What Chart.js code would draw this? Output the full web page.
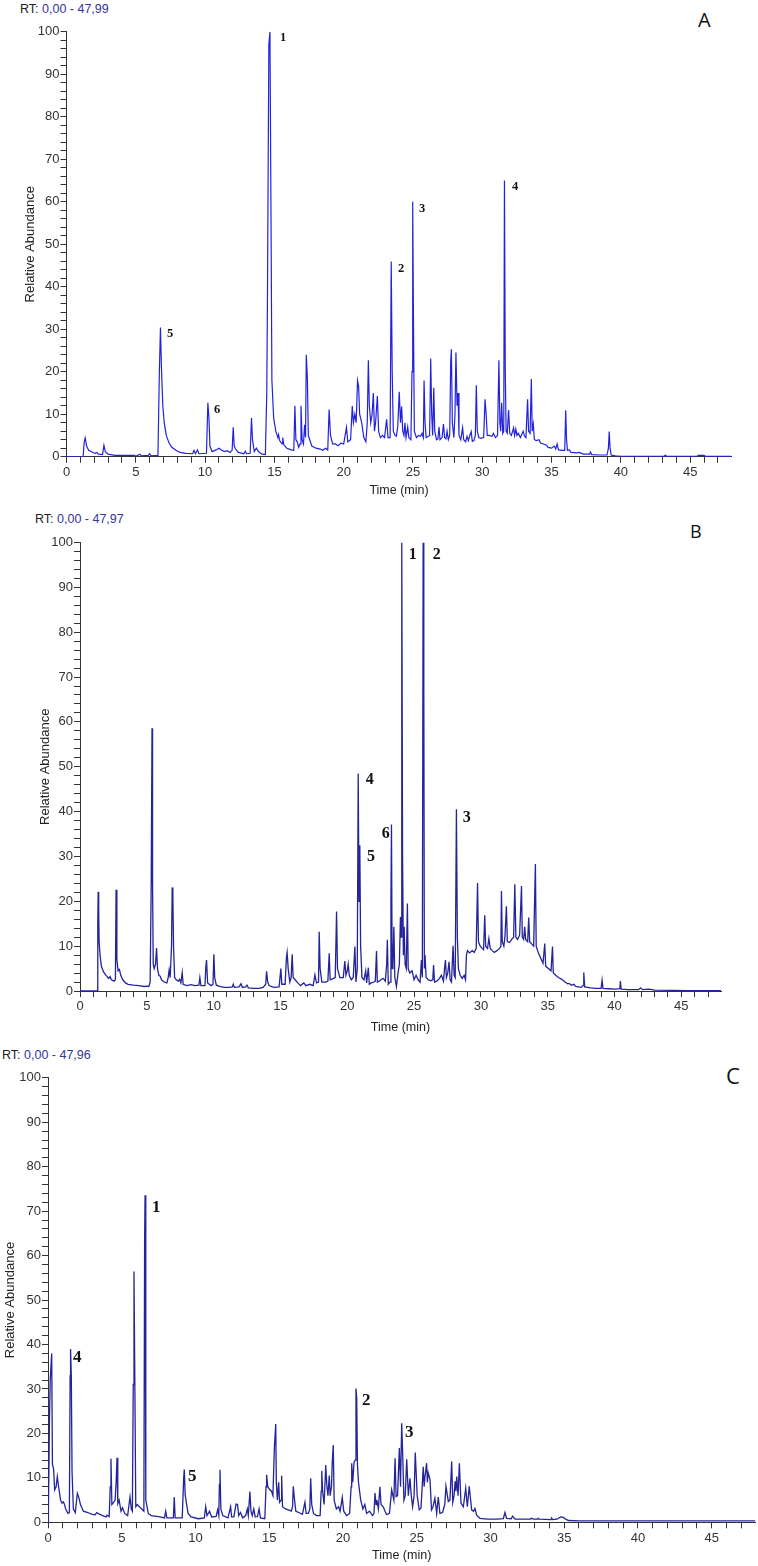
<!DOCTYPE html>
<html>
<head>
<meta charset="utf-8">
<script src="https://cdn.jsdelivr.net/npm/chart.js@4.4.1/dist/chart.umd.min.js"></script>
<style>
  body { margin: 0; background: #fff; }
  #page { position: relative; width: 758px; height: 1566px; overflow: hidden; background: #fff; }
  canvas { position: absolute; left: 0; }
  .rt { position: absolute; font: 12.5px "Liberation Sans", Arial, sans-serif; line-height: 14px; color: #222; white-space: nowrap; }
  .rt span { color: #34349a; }
  .tag { position: absolute; font-family: "Open Sans", sans-serif; line-height: 1; color: #111; }
</style>
</head>
<body>
<div id="page">
  <div class="rt" style="left:20px; top:1.5px">RT: <span>0,00 - 47,99</span></div>
  <div class="tag" style="left:698px; top:10px; font-size:20px">A</div>
  <canvas id="chartA" width="758" height="505" style="top:0px"></canvas>

  <div class="rt" style="left:35px; top:512px">RT: <span>0,00 - 47,97</span></div>
  <div class="tag" style="left:690px; top:522px; font-size:18px">B</div>
  <canvas id="chartB" width="758" height="535" style="top:505px"></canvas>

  <div class="rt" style="left:2px; top:1048px">RT: <span>0,00 - 47,96</span></div>
  <div class="tag" style="left:726px; top:1064px; font-size:22px">C</div>
  <canvas id="chartC" width="758" height="526" style="top:1040px"></canvas>
</div>
<script>
// retention time range of each run (min)
const rtMaxA = 47.99;
const rtMaxB = 47.97;
const rtMaxC = 47.96;

// [time (min), relative abundance (%)]
const traceA = [
  [0,0],[1.2,0],[1.28,3.5],[1.35,4.4],[1.45,2.5],[1.6,1.5],[1.9,1.0],[2.1,0.8],[2.2,1.0],[2.3,0.6],[2.6,0.5],[2.7,2.7],[2.8,1.2],[3.0,0.6],[3.5,0.3],[4.0,0.3],[4.9,0.3],[5.0,0.1],[5.3,0.6],[5.4,0.2],[5.9,0.3],[6.0,0.7],[6.1,0.2],[6.6,0.3],
  [6.7,20],[6.78,30.4],[6.85,21],[6.95,12],[7.05,8],[7.2,5],[7.4,3.2],[7.6,2.2],[7.9,1.5],[8.2,1.0],[8.6,0.8],[9.1,0.7],[9.2,1.5],[9.3,0.7],[9.45,1.6],[9.55,0.7],[10.1,0.8],
  [10.2,12.7],[10.28,9],[10.35,2.5],[10.5,1.2],[10.8,1.6],[11.0,2.0],[11.2,1.5],[11.4,1.2],[11.6,1.4],[11.8,1.0],[11.95,1.5],[12.03,6.9],[12.1,2.5],[12.2,1.8],[12.4,1.0],[12.8,0.7],[12.9,1.3],[13.0,0.7],[13.25,0.8],
  [13.35,9.1],[13.42,4],[13.55,1.2],[13.7,2.0],[13.85,1.2],[14.1,0.6],[14.35,0.5],[14.45,15],[14.5,37],[14.6,97],[14.68,100],[14.75,60],[14.82,18],[14.95,9],[15.1,6],[15.25,4.5],[15.3,5.2],[15.38,3.8],[15.55,3],[15.6,4.5],[15.68,2.8],[15.9,2],[16.2,1.6],[16.4,1.5],
  [16.48,12],[16.55,4],[16.65,3.5],[16.75,2.2],[16.85,3],[16.92,12],[17.0,4],[17.1,3],[17.18,7.5],[17.25,4.5],[17.3,24],[17.38,18.5],[17.45,5],[17.55,4],[17.7,2.5],[18.0,2],[18.3,1.8],[18.5,1.5],[18.7,2],[18.85,1.6],
  [18.95,11.1],[19.05,5],[19.2,3],[19.4,3],[19.6,2.6],[19.8,3.2],[20.0,3],[20.2,6.9],[20.3,3.5],[20.5,4],[20.62,11.9],[20.7,8],[20.8,10],[20.9,8],[21.0,17.9],[21.08,16.5],[21.15,10],[21.3,8],[21.45,4.5],[21.6,3.5],[21.7,8],[21.78,22.7],[21.85,12],[21.95,8],
  [22.05,10],[22.14,15],[22.22,6],[22.3,8],[22.43,14.3],[22.52,6],[22.65,4.5],[22.8,5],[22.95,4.5],[23.1,8.8],[23.2,4.5],[23.35,4.5],[23.43,45.9],[23.5,20],[23.58,6],[23.7,5],[23.8,4.8],[23.9,7],[24.01,15.3],[24.1,8],[24.18,11.8],[24.26,6],[24.35,5],[24.42,8],[24.5,4.5],[24.62,7],[24.7,4.5],[24.85,4],
  [24.93,20],[24.98,60],[25.04,30],[25.1,6],[25.25,4.5],[25.4,5],[25.55,4.8],[25.65,5.5],[25.75,4.5],[25.8,17.9],[25.87,8],[25.95,4.5],[26.1,4.8],[26.2,5],[26.28,23.1],[26.35,10],[26.42,5],[26.5,16.2],[26.57,6],[26.7,4],[26.8,4.2],[26.88,7],[26.95,4],
  [27.1,4.5],[27.2,7.7],[27.28,4.5],[27.38,4.2],[27.46,6],[27.55,4],[27.65,5],[27.72,22],[27.77,25.3],[27.84,8],[27.95,4.5],[28.03,10],[28.1,24.5],[28.18,12],[28.25,15],[28.32,5],[28.45,4],[28.58,6.8],[28.66,4],[28.8,3.5],[28.9,4.8],[29.0,3.8],[29.1,5],[29.2,5.9],[29.28,3.6],[29.4,3.8],[29.5,5],
  [29.57,16.8],[29.64,6],[29.75,4.5],[29.9,4.3],[30.1,4.5],[30.2,13.5],[30.28,10],[30.36,5],[30.5,5],[30.7,4.8],[30.8,5.5],[30.95,4.5],[31.1,5],[31.2,22.7],[31.27,8],[31.33,6],[31.4,12.7],[31.48,5.5],[31.55,6],[31.6,65],[31.66,20],[31.72,6],[31.8,5.5],[31.9,11],[31.98,5.5],
  [32.1,5],[32.26,6.8],[32.33,5],[32.42,6.5],[32.5,5],[32.6,5.5],[32.75,4.5],[32.95,6],[33.05,4.8],[33.15,4.5],[33.27,13.5],[33.34,6],[33.45,5.5],[33.54,18.3],[33.6,6],[33.68,7.7],[33.76,4],[33.9,3.8],[34.1,4],[34.2,3.2],[34.4,3],[34.64,2.7],[34.75,2.2],[35.0,2],[35.2,2.5],[35.3,1.8],[35.4,3],[35.5,1.6],[35.8,1.5],[35.95,1.5],
  [36.02,10.9],[36.08,4],[36.15,1.5],[36.3,1.6],[36.4,1],[36.8,0.9],[37.0,1],[37.3,0.6],[37.75,0.6],[37.8,1.1],[37.9,0.5],[38.5,0.4],[39.0,0.4],[39.1,2],[39.16,5.9],[39.22,2],[39.3,0.4],[39.6,0.2],[40,0.1],[43.1,0.1],[43.2,0.35],[43.3,0.1],[45.5,0.1],[45.6,0.3],[46.0,0.3],[46.1,0.1],[47.99,0.1]
];

const traceB = [
  [0,0],[1.3,0],[1.33,15],[1.36,22.1],[1.4,18],[1.43,11],[1.5,8],[1.6,5.5],[1.75,4.3],[1.95,3.5],[2.15,2.8],[2.25,3.2],[2.35,2.5],[2.55,2.2],[2.65,2.5],[2.7,22.6],[2.76,7],[2.85,4.5],[2.95,4.8],[3.05,3.5],[3.2,2.5],[3.4,1.8],[3.6,1.5],[4.0,1.3],[4.4,1.2],[4.8,1.0],[5.0,1.1],[5.15,1.0],
  [5.25,2],[5.33,24],[5.39,58.6],[5.43,24],[5.48,6],[5.55,5],[5.65,6],[5.73,9.6],[5.8,5],[5.9,3.5],[6.0,3.3],[6.1,2.5],[6.3,2],[6.5,1.8],[6.6,3],[6.67,4.7],[6.75,3],[6.85,10],[6.9,23.1],[6.95,21],[7.0,10],[7.08,3],[7.2,2.5],[7.35,2.2],[7.45,2.6],[7.55,1.8],[7.65,4.1],[7.72,1.5],
  [8.0,1.2],[8.3,1.4],[8.6,1.2],[8.9,1.3],[8.97,3.0],[9.05,1.2],[9.35,1.2],[9.42,5.5],[9.47,6.9],[9.55,1.8],[9.8,1.2],[9.95,1.5],[10.02,8.2],[10.08,3],[10.2,1.3],[10.5,1],[10.8,0.8],[11.2,0.8],[11.4,0.9],[11.47,1.5],[11.55,0.8],[11.9,0.9],[12.05,1.6],[12.15,0.8],[12.4,0.9],[12.5,1.3],[12.6,0.7],
  [13.0,0.6],[13.4,0.6],[13.7,0.8],[13.9,1.5],[13.96,4.4],[14.05,2],[14.15,1.2],[14.5,0.8],[14.9,0.9],[15.03,5.0],[15.1,1.5],[15.35,1.5],[15.45,7.5],[15.5,8.6],[15.58,5],[15.7,2],[15.8,3],[15.88,8.2],[15.95,3],[16.1,2.5],[16.3,1.8],[16.5,1.2],[16.75,1.8],[16.9,1.2],[17.2,1.5],[17.45,1.2],
  [17.58,3.6],[17.7,1.8],[17.85,2],[17.9,13.2],[17.97,5],[18.1,2],[18.4,2],[18.55,2.2],[18.65,8.4],[18.72,2.5],[18.9,2.7],[19.1,3],[19.2,17.7],[19.27,5],[19.45,3],[19.7,3],[19.82,6.7],[19.9,3.5],[20.0,4.5],[20.07,6],[20.15,3.5],[20.3,2.5],[20.45,3],[20.57,9.9],[20.65,2],[20.75,5],
  [20.82,48.5],[20.88,20],[20.94,32.5],[21.0,10],[21.1,3],[21.25,2.5],[21.38,4.5],[21.45,1.8],[21.58,5.2],[21.65,1.5],[21.8,1.8],[22.0,2],[22.1,2.2],[22.19,8.9],[22.25,2],[22.4,2.2],[22.55,2.6],[22.7,2.8],[22.85,2.2],[22.95,6],[23.0,11.4],[23.07,1.5],[23.2,2],
  [23.27,20],[23.31,37.1],[23.36,5],[23.42,6],[23.49,14.3],[23.56,3],[23.68,1],[23.8,4],[23.9,6],[23.98,16.5],[24.03,12],[24.08,100],[24.14,30],[24.2,8],[24.26,14.3],[24.33,6],[24.42,5],[24.5,19.5],[24.56,5],[24.68,4],[24.85,4.5],[25.0,2.5],[25.15,3.5],[25.3,2.5],[25.45,2],
  [25.55,6.9],[25.62,3],[25.68,100],[25.73,67],[25.77,5],[25.82,8],[25.9,3],[26.05,2.5],[26.25,2.3],[26.4,2.5],[26.46,5.8],[26.53,2],[26.7,2.2],[26.9,2.8],[27.05,3.5],[27.2,2.2],[27.28,5],[27.35,6.9],[27.42,3],[27.52,4],[27.62,6.5],[27.7,2.5],[27.8,2],[27.92,10.1],[28.0,3.5],[28.08,3],
  [28.17,40.5],[28.24,12],[28.32,5],[28.45,3.5],[28.6,2.8],[28.75,3.5],[28.85,2.5],[28.92,8],[29.0,9],[29.15,8.5],[29.35,9],[29.5,8.6],[29.65,9.5],[29.75,24.1],[29.82,11],[29.95,10],[30.1,9.5],[30.2,9.2],[30.29,16.9],[30.36,10],[30.5,9.5],[30.6,11.7],[30.7,9.5],[30.85,9],[31.0,8.6],[31.2,9],[31.4,9.5],[31.5,10],
  [31.54,22.3],[31.6,11],[31.72,10],[31.8,12],[31.91,18.9],[31.98,11],[32.15,10.8],[32.3,11.5],[32.45,12],[32.54,23.8],[32.62,12],[32.75,11.5],[32.9,12.5],[33.04,23.4],[33.1,12],[33.2,11.5],[33.28,14.3],[33.35,11.5],[33.5,11],[33.58,16.4],[33.65,11],[33.8,10.5],[33.95,10],
  [34.08,28.3],[34.14,10],[34.3,8.5],[34.5,7.2],[34.65,6.2],[34.78,10.6],[34.85,5.5],[35.05,5],[35.25,4.5],[35.36,9.9],[35.42,4],[35.6,3.5],[35.8,3],[36.0,2.7],[36.1,2.5],[36.3,2],[36.5,1.6],[36.6,1.7],[36.8,1.3],[36.95,1.5],[37.1,1.0],[37.5,0.8],[37.65,1.2],[37.7,4.1],[37.77,0.9],
  [38.2,0.7],[38.6,0.6],[39.0,0.6],[39.07,2.4],[39.14,0.6],[39.6,0.5],[40.0,0.4],[40.4,0.5],[40.44,2.2],[40.5,0.4],[41.0,0.3],[41.8,0.3],[41.96,0.7],[42.1,0.3],[42.6,0.4],[43,0.2],[45.5,0.1],[47.97,0.1]
];

const traceC = [
  [0,0],[0.03,3],[0.1,23],[0.15,32],[0.25,38],[0.3,13],[0.38,12],[0.45,7.3],[0.55,8],[0.63,10.3],[0.72,8],[0.85,5],[0.95,4.3],[1.04,4.6],[1.1,4.2],[1.2,3],[1.35,2],[1.45,2.2],[1.5,33],[1.53,39],[1.58,33],[1.63,11.4],[1.72,3],[1.85,2.2],[1.99,6.5],[2.1,5.5],[2.2,4],[2.4,2.5],
  [2.7,2.2],[3.0,1.8],[3.2,1.7],[3.3,2.2],[3.45,1.9],[3.7,1.5],[3.93,1.2],[4.0,1.6],[4.15,1.3],[4.22,8],[4.27,14.3],[4.33,4],[4.45,4.5],[4.55,5],[4.62,9],[4.68,14.5],[4.73,4.2],[4.82,5],[4.95,2.5],[5.05,3.3],[5.2,2],[5.4,1.5],[5.56,5.7],[5.65,3],[5.72,2.5],
  [5.78,31],[5.83,56.4],[5.88,35],[5.95,3.5],[6.05,4],[6.2,3.5],[6.35,3],[6.5,2.5],[6.55,63],[6.58,73.6],[6.63,5],[6.8,2],[7.0,1.5],[7.5,1.3],[7.9,1],[7.98,2.5],[8.06,1],[8.5,1],[8.56,5.7],[8.62,1],[9.1,1],[9.2,10],[9.24,11.9],[9.3,6.2],[9.4,4],[9.5,2],[9.7,1.2],
  [10.2,0.8],[10.6,1],[10.69,3.5],[10.78,1.5],[10.95,2.5],[11.1,1.2],[11.4,1.3],[11.5,2.8],[11.58,1.5],[11.62,8.5],[11.66,11.8],[11.72,3],[11.85,1.5],[12.2,1.0],[12.38,3.5],[12.45,1.2],[12.6,1.2],[12.75,4.1],[12.85,4],[12.93,1.5],[13.05,2.2],[13.2,1],[13.4,1.5],[13.51,3],[13.58,1.5],
  [13.69,6.9],[13.76,2.5],[13.85,1.5],[13.95,3],[14.05,1.2],[14.2,1.3],[14.31,3],[14.4,1],[14.7,0.8],[14.78,8],[14.82,10.7],[14.9,8],[15.0,7.5],[15.15,7],[15.25,6],[15.35,17],[15.44,22.1],[15.48,9],[15.55,5],[15.64,9],[15.7,4.5],[15.8,5],[15.84,10.5],[15.9,3.5],
  [16.1,3],[16.3,2.8],[16.5,2.5],[16.58,3.5],[16.63,8.1],[16.7,5.5],[16.8,2.5],[17.0,2.2],[17.25,1.8],[17.42,4.5],[17.5,2],[17.65,2],[17.75,3],[17.81,9.9],[17.88,4],[18.0,2],[18.2,1.5],[18.45,1.5],[18.52,7],[18.56,11.6],[18.62,7],[18.72,4],[18.83,12.9],[18.9,8.5],[18.98,6],
  [19.07,10.5],[19.13,6],[19.22,8],[19.27,13.4],[19.34,17.4],[19.4,5],[19.55,3],[19.7,3.5],[19.8,2.5],[19.9,4.5],[19.95,5.6],[20.05,2.5],[20.25,1.5],[20.45,2],[20.55,8],[20.59,13.3],[20.66,9],[20.75,13.5],[20.82,14],[20.88,30.1],[20.93,28],[20.98,13],[21.05,9],[21.2,5],
  [21.35,3],[21.48,4],[21.6,2],[21.8,2.5],[22.0,1.5],[22.1,2],[22.17,6.6],[22.24,4],[22.3,5],[22.4,3],[22.5,8],[22.58,4],[22.73,3.5],[22.85,2.5],[22.96,1.7],[23.15,2],[23.3,7.3],[23.45,5],[23.53,14.4],[23.6,5.8],[23.7,6],[23.82,16.7],[23.9,8],[23.98,22.3],[24.05,15],
  [24.13,5],[24.22,6],[24.32,14.2],[24.43,6],[24.54,9.9],[24.63,6],[24.72,3.5],[24.82,6],[24.9,15.7],[25.03,6],[25.17,2.8],[25.29,3.2],[25.44,12.5],[25.5,8],[25.56,10.3],[25.67,13.3],[25.72,9],[25.78,11.1],[25.9,9.6],[26.0,2.8],[26.1,3.5],[26.23,5.4],[26.35,2],[26.46,5.7],
  [26.57,2],[26.75,2.2],[26.9,4],[26.98,8.1],[27.14,4.7],[27.25,5],[27.37,13.7],[27.44,4.5],[27.53,6],[27.6,9.2],[27.66,7],[27.71,10.3],[27.8,6],[27.89,13.3],[28.0,4.3],[28.16,3.5],[28.32,7.7],[28.43,3.5],[28.56,8.1],[28.72,2.8],[28.85,2.5],[28.95,3.1],[29.06,1.6],
  [29.29,0.9],[29.8,0.7],[30.42,0.7],[30.87,0.8],[30.98,2.2],[31.09,0.9],[31.4,0.8],[31.5,1.4],[31.66,0.7],[32.68,0.7],[32.8,0.9],[32.9,0.7],[33.2,0.7],[33.24,0.9],[33.3,0.7],[34.1,0.6],[34.15,1.0],[34.2,0.6],[34.5,0.7],[34.76,1.2],[34.94,1.1],[35.1,0.7],[35.28,0.4],[36,0.3],[47.96,0.3]
];

// peak numbers: [label, time, abundance] where the number sits
const labelsA = [['1', 15.4, 98.6], ['2', 23.92, 44.2], ['3', 25.43, 58.3], ['4', 32.14, 63.6], ['5', 7.25, 28.9], ['6', 10.64, 11.1]];
const labelsB = [['1', 24.6, 97.2], ['2', 26.4, 97.2], ['3', 28.65, 38.6], ['4', 21.39, 47.0], ['5', 21.47, 29.8], ['6', 22.59, 35.1]];
const labelsC = [['1', 7.05, 70.8], ['2', 21.29, 27.4], ['3', 24.2, 20.2], ['4', 1.69, 37.0], ['5', 9.49, 10.2]];

Chart.defaults.font.family = '"Liberation Sans", Arial, sans-serif';

function peakLabels(items, size) {
  return {
    id: 'peakLabels',
    afterDatasetsDraw(chart) {
      const { ctx, scales: { x, y } } = chart;
      ctx.save();
      ctx.font = `bold ${size}px "Liberation Serif", "Times New Roman", serif`;
      ctx.fillStyle = '#111';
      ctx.textAlign = 'left';
      ctx.textBaseline = 'middle';
      items.forEach(([text, t, v]) => ctx.fillText(text, x.getPixelForValue(t), y.getPixelForValue(v)));
      ctx.restore();
    }
  };
}

function makeChart(id, trace, labels, cfg) {
  return new Chart(document.getElementById(id), {
    type: 'line',
    data: {
      datasets: [{
        data: trace.map(([x, y]) => ({ x, y })),
        borderColor: cfg.color,
        borderWidth: cfg.lineWidth,
        pointRadius: 0,
        tension: 0,
        fill: false
      }]
    },
    options: {
      responsive: false,
      animation: false,
      events: [],
      layout: { padding: cfg.padding },
      plugins: { legend: { display: false }, tooltip: { enabled: false } },
      scales: {
        x: {
          type: 'linear',
          min: 0,
          max: cfg.tMax,
          afterFit: s => { s.height = cfg.xHeight; },
          border: { color: '#333', width: 1 },
          grid: { drawOnChartArea: false, tickLength: 6, tickColor: '#333' },
          ticks: {
            stepSize: 1, autoSkip: false, maxRotation: 0, minRotation: 0, includeBounds: false,
            padding: 2, color: '#333', font: { size: 13 },
            callback: v => (v % 5 === 0 ? v : '')
          },
          title: {
            display: true, text: 'Time (min)', color: '#222', font: { size: 12.5 },
            padding: { top: 0, bottom: cfg.xTitlePad }
          }
        },
        y: {
          min: 0,
          max: 100,
          afterFit: s => { s.width = cfg.yWidth; },
          border: { color: '#333', width: 1 },
          grid: { drawOnChartArea: false, tickLength: 6, tickColor: '#333' },
          ticks: {
            stepSize: 2, autoSkip: false, padding: 1, color: '#333', font: { size: 13 },
            callback: v => (v % 10 === 0 ? v : '')
          },
          title: {
            display: true, text: 'Relative Abundance', color: '#222', font: { size: 13 },
            padding: { top: cfg.yTitlePad, bottom: 0 }
          }
        }
      }
    },
    plugins: [peakLabels(labels, cfg.labelSize)]
  });
}

makeChart('chartA', traceA, labelsA, {
  tMax: rtMaxA, color: '#2222dc', lineWidth: 1.2, labelSize: 12.5,
  padding: { left: 0, top: 31.7, right: 26.4, bottom: 0 },
  yWidth: 66.5, xHeight: 48.3, xTitlePad: 6.5, yTitlePad: 22.2
});
makeChart('chartB', traceB, labelsB, {
  tMax: rtMaxB, color: '#24249a', lineWidth: 1.3, labelSize: 16,
  padding: { left: 0, top: 37.5, right: 37, bottom: 0 },
  yWidth: 80, xHeight: 49, xTitlePad: 4.5, yTitlePad: 37.7
});
makeChart('chartC', traceC, labelsC, {
  tMax: rtMaxC, color: '#24249a', lineWidth: 1.3, labelSize: 17,
  padding: { left: 0, top: 37.8, right: 2.6, bottom: 0 },
  yWidth: 48, xHeight: 43.7, xTitlePad: 2.5, yTitlePad: 2.7
});
</script>
</body>
</html>
